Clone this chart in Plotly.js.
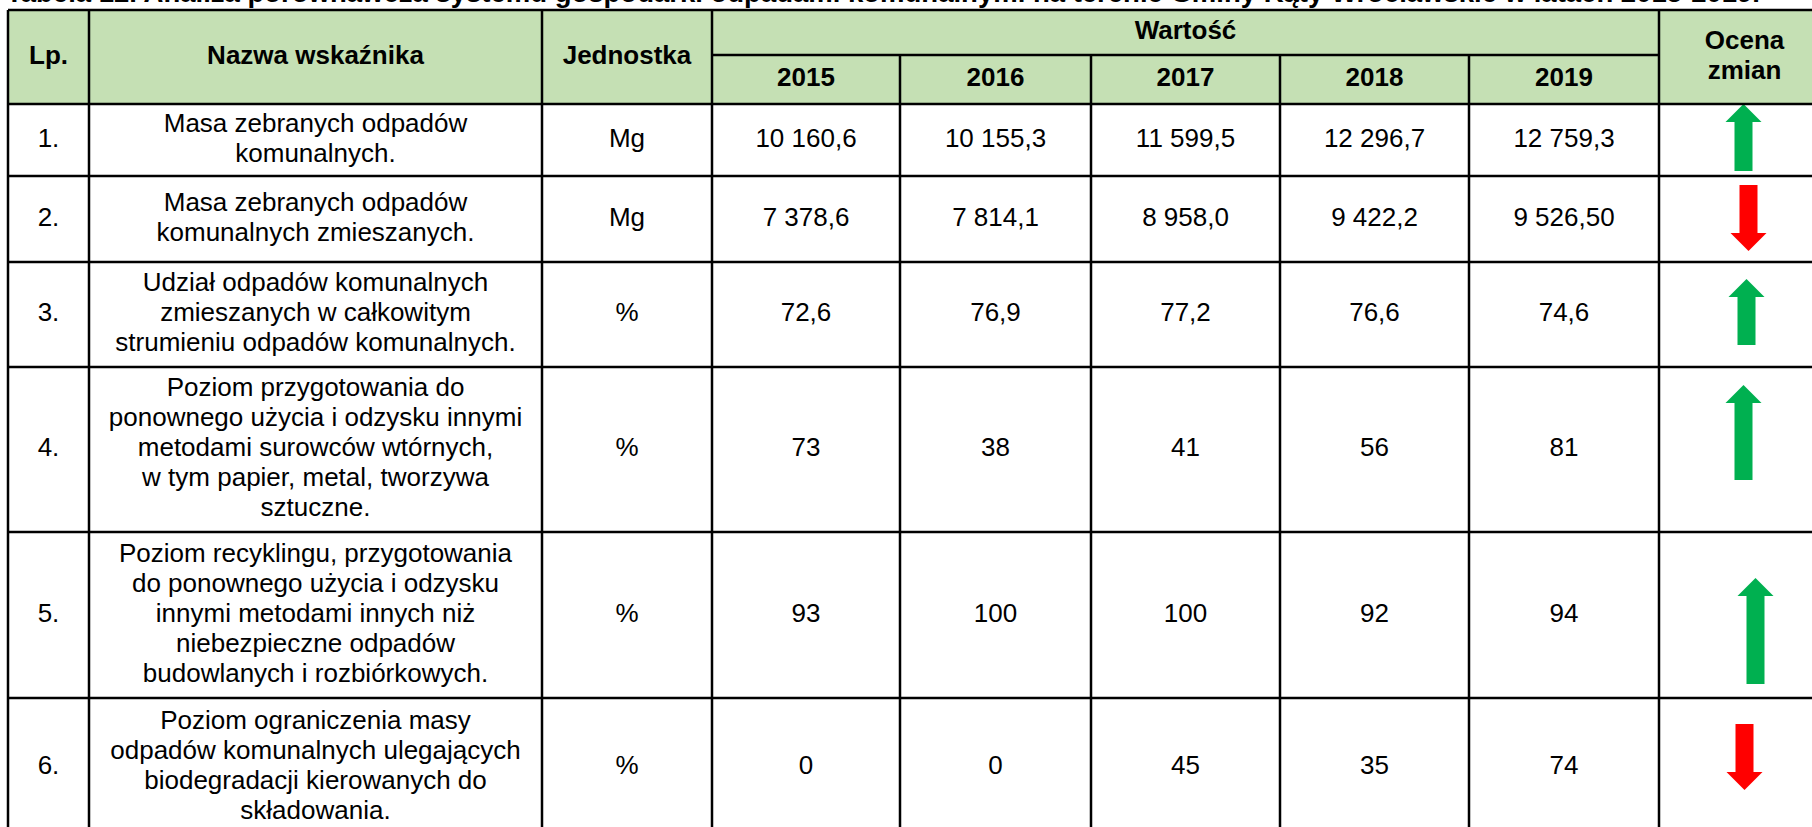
<!DOCTYPE html>
<html><head><meta charset="utf-8">
<script src="https://cdn.plot.ly/plotly-3.0.1.min.js"></script>
<style>html,body{margin:0;padding:0;background:#fff;overflow:hidden}</style>
</head><body><div id="chart" style="width:1812px;height:827px"></div>
<script>
// ---------- DATA ----------
const titleText = "Tabela 12. Analiza porównawcza systemu gospodarki odpadami komunalnymi na terenie Gminy Kąty Wrocławskie w latach 2015-2019.";
const headers = ["Lp.", "Nazwa wskaźnika", "Jednostka"];
const groupHeader = "Wartość";
const lastHeader = "Ocena\nzmian";
const years = ["2015", "2016", "2017", "2018", "2019"];
const lp = ["1.", "2.", "3.", "4.", "5.", "6."];
const indicators = [
  "Masa zebranych odpadów\nkomunalnych.",
  "Masa zebranych odpadów\nkomunalnych zmieszanych.",
  "Udział odpadów komunalnych\nzmieszanych w całkowitym\nstrumieniu odpadów komunalnych.",
  "Poziom przygotowania do\nponownego użycia i odzysku innymi\nmetodami surowców wtórnych,\nw tym papier, metal, tworzywa\nsztuczne.",
  "Poziom recyklingu, przygotowania\ndo ponownego użycia i odzysku\ninnymi metodami innych niż\nniebezpieczne odpadów\nbudowlanych i rozbiórkowych.",
  "Poziom ograniczenia masy\nodpadów komunalnych ulegających\nbiodegradacji kierowanych do\nskładowania."
];
const units = ["Mg", "Mg", "%", "%", "%", "%"];
const v2015 = ["10 160,6", "7 378,6", "72,6", "73", "93", "0"];
const v2016 = ["10 155,3", "7 814,1", "76,9", "38", "100", "0"];
const v2017 = ["11 599,5", "8 958,0", "77,2", "41", "100", "45"];
const v2018 = ["12 296,7", "9 422,2", "76,6", "56", "92", "35"];
const v2019 = ["12 759,3", "9 526,50", "74,6", "81", "94", "74"];
const trend = ["up", "down", "up", "up", "up", "down"];

// ---------- LAYOUT / STYLE ----------
const W = 1812, H = 827;
const colEdges = [8, 89, 542, 712, 900, 1091, 1280, 1469, 1659, 1830];
const headTop = 10, groupBottom = 55, headBottom = 104;
const rowEdges = [104, 176, 262, 367, 532, 698, 836];
const FONT = "Liberation Sans, Arial, Helvetica, sans-serif";
const bodySize = 26, headSize = 26, titleSize = 27.5, lineH = 30;
const headerFill = "#C5E0B4";
const upColor = "#00B050", downColor = "#FF0000";
const borderW = 2.5;
// arrow placement relative to cell centre: [dx, dy, length]
const arrowStyle = [[0, -2.5, 67], [5, -1, 66], [3, -2.5, 66], [0, -17, 95], [12, 16, 106], [1, -10, 66]];
const arrowHead = 18, arrowHeadW = 36, arrowShaftW = 18;

const traces = [];
function textTrace(items, size, bold) {
  const xs = [], ys = [], ts = [];
  items.forEach(([txt, cx, cy]) => {
    const lines = txt.split("\n");
    const n = lines.length;
    lines.forEach((ln, i) => {
      xs.push(cx); ys.push(cy + (i - (n - 1) / 2) * lineH);
      ts.push(bold ? "<b>" + ln + "</b>" : ln);
    });
  });
  traces.push({
    type: "scatter", mode: "text", x: xs, y: ys, text: ts,
    textposition: "middle center", hoverinfo: "skip",
    textfont: {family: FONT, size: size, color: "#000"}
  });
}
const colC = i => (colEdges[i] + colEdges[i + 1]) / 2;
const rowC = r => (rowEdges[r] + rowEdges[r + 1]) / 2;

// header texts
const hdr = [];
headers.forEach((h, i) => hdr.push([h, colC(i), (headTop + headBottom) / 2]));
hdr.push([groupHeader, (colEdges[3] + colEdges[8]) / 2, (headTop + groupBottom) / 2]);
years.forEach((y, i) => hdr.push([y, colC(3 + i), (groupBottom + headBottom) / 2]));
hdr.push([lastHeader, colC(8), (headTop + headBottom) / 2]);
textTrace(hdr, headSize, true);

// body texts
const columns = [lp, indicators, units, v2015, v2016, v2017, v2018, v2019];
const body = [];
columns.forEach((col, c) => col.forEach((v, r) => body.push([v, colC(c), rowC(r)])));
textTrace(body, bodySize, false);

// title (cropped at top as in the source)
traces.push({
  type: "scatter", mode: "text", x: [colEdges[0] - 2], y: [-5], text: ["<b>" + titleText + "</b>"],
  textposition: "middle right", hoverinfo: "skip",
  textfont: {family: FONT, size: titleSize, color: "#000"}
});

// arrows
trend.forEach((t, r) => {
  const [dx, dy, len] = arrowStyle[r];
  const cx = colC(8) - 1 + dx, cy = rowC(r) + dy;
  const s = t === "up" ? -1 : 1;            // direction of the tip in screen y
  const tip = cy + s * len / 2, tail = cy - s * len / 2, base = tip - s * arrowHead;
  const hw = arrowHeadW / 2, sw = arrowShaftW / 2;
  traces.push({
    type: "scatter", mode: "lines", hoverinfo: "skip", fill: "toself",
    fillcolor: t === "up" ? upColor : downColor, line: {width: 0, color: "rgba(0,0,0,0)"},
    x: [cx, cx + hw, cx + sw, cx + sw, cx - sw, cx - sw, cx - hw, cx],
    y: [tip, base, base, tail, tail, base, base, tip]
  });
});

// borders and header fill
const shapes = [];
shapes.push({type: "rect", layer: "below", x0: colEdges[0], x1: colEdges[9], y0: headTop, y1: headBottom,
  fillcolor: headerFill, line: {width: 0}});
const ln = (x0, y0, x1, y1) => shapes.push({type: "line", x0, y0, x1, y1, line: {color: "#000", width: borderW}});
ln(colEdges[0], headTop, colEdges[9], headTop);
ln(colEdges[3], groupBottom, colEdges[8], groupBottom);
rowEdges.forEach(y => ln(colEdges[0], y, colEdges[9], y));
colEdges.forEach((x, i) => {
  const inner = i >= 4 && i <= 7;
  ln(x, inner ? groupBottom : headTop, x, rowEdges[rowEdges.length - 1]);
});

Plotly.newPlot("chart", traces, {
  width: W, height: H, margin: {l: 0, r: 0, t: 0, b: 0, pad: 0},
  paper_bgcolor: "#fff", plot_bgcolor: "#fff", showlegend: false,
  xaxis: {range: [0, W], visible: false, fixedrange: true},
  yaxis: {range: [H, 0], visible: false, fixedrange: true},
  shapes: shapes
}, {staticPlot: true});
</script></body></html>
